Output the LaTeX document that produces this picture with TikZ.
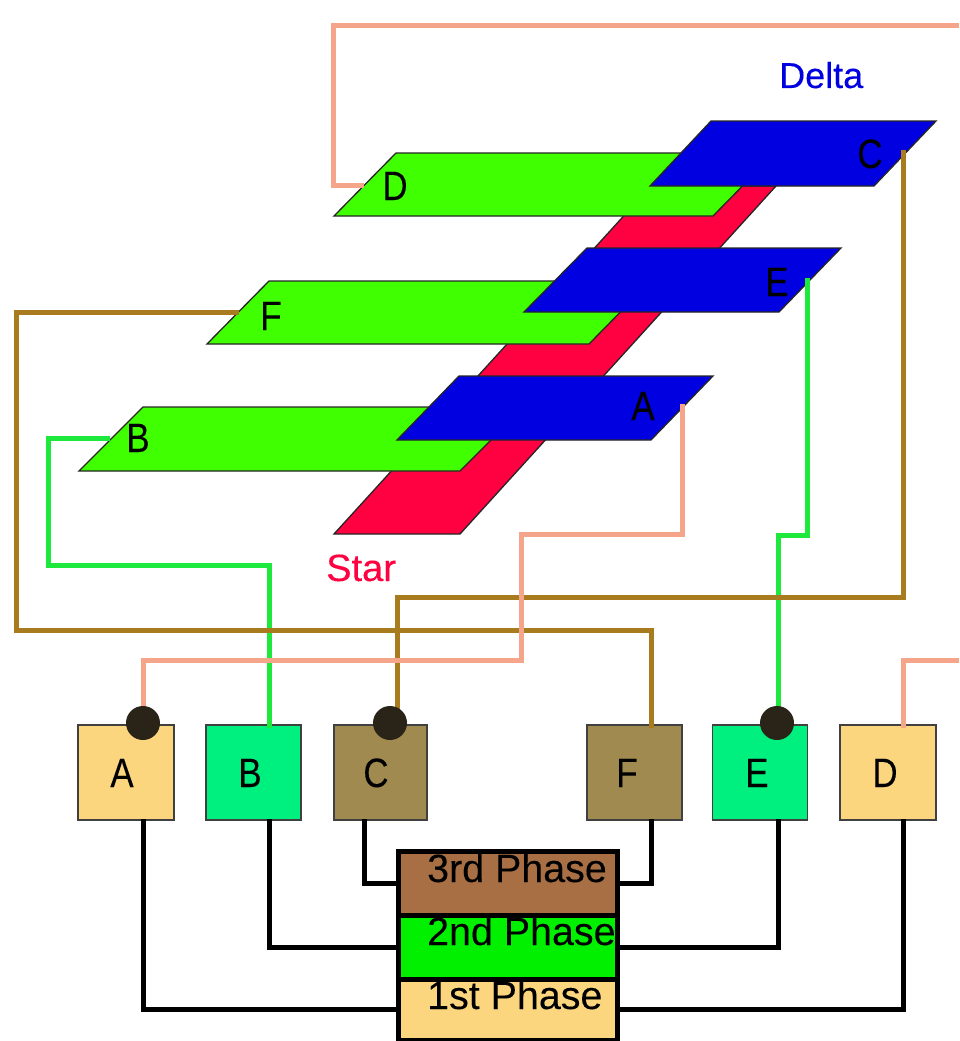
\documentclass[tikz,border=0pt]{standalone}
\usepackage{fontspec}
\setmainfont{Liberation Sans}
\newfontfamily\heavyfont[FakeBold=0.25]{Liberation Sans}
\newfontfamily\midfont[FakeBold=0.12]{Liberation Sans}
\definecolor{planeG}{HTML}{40FF00}
\definecolor{planeB}{HTML}{0000E0}
\definecolor{planeR}{HTML}{FF0040}
\definecolor{wireP}{HTML}{F4A58A}
\definecolor{wireB}{HTML}{A87B1E}
\definecolor{wireG}{HTML}{1FE83C}
\definecolor{boxY}{HTML}{FBD67E}
\definecolor{boxG}{HTML}{00F080}
\definecolor{boxB}{HTML}{A08A50}
\definecolor{phaseB}{HTML}{A86F45}
\definecolor{phaseG}{HTML}{00F000}
\definecolor{dotK}{HTML}{2A2318}
\tikzset{
  plane/.style={draw=black!85,line width=1.3pt,line join=miter},
  wire/.style={line width=5pt,line join=miter},
  letter/.style={font=\midfont\fontsize{41}{41}\selectfont,xscale=.85,transform shape,inner sep=0pt,anchor=base,text=black},
  termbox/.style={draw=black!75,line width=1.6pt,inner sep=0pt,outer sep=0pt},
  phasebox/.style={draw=black,line width=5pt,inner sep=0pt,outer sep=0pt,minimum width=219pt},
  phasetext/.style={font=\midfont\fontsize{39.4}{40}\selectfont,inner sep=0pt,anchor=base west,text=black},
  tie/.style={fill=dotK,circle,inner sep=0pt,minimum size=34pt}
}
\begin{document}
\begin{tikzpicture}[x=1pt,y=-1pt]
\useasboundingbox (0,0) rectangle (959,1041);
\fill[white] (0,0) rectangle (959,1041);
% planes
\draw[plane,fill=planeR] (334,534) -- (460,534) -- (776,186) -- (651,186) -- cycle;
\draw[plane,fill=planeG] (334,216) -- (396,153) -- (775,153) -- (713,216) -- cycle;
\draw[plane,fill=planeG] (207,344) -- (269,281) -- (651,281) -- (589,344) -- cycle;
\draw[plane,fill=planeG] (79,471) -- (143,407) -- (524,407) -- (460,471) -- cycle;
\draw[plane,fill=planeB] (650,186) -- (711,121) -- (936,121) -- (874,186) -- cycle;
\draw[plane,fill=planeB] (524,312) -- (587,248) -- (841,248) -- (779,312) -- cycle;
\draw[plane,fill=planeB] (397,440) -- (459,376) -- (713,376) -- (651,440) -- cycle;
% plane labels
\node[letter] (lD) at (395,200) {D};
\node[letter] (lC) at (870,168) {C};
\node[letter] (lE) at (777,296) {E};
\node[letter] (lF) at (271,330) {F};
\node[letter] (lB) at (138,452) {B};
\node[letter] (lA) at (643,420) {A};
\node[font=\heavyfont\fontsize{36}{36}\selectfont,text=planeB,inner sep=0pt,anchor=base west] (delta) at (779,88) {Delta};
\node[font=\heavyfont\fontsize{38}{38}\selectfont,text=planeR,inner sep=0pt,anchor=base west] (star) at (326,581) {Star};
% terminal boxes
\node[termbox,fill=boxY,minimum width=96pt,minimum height=95pt] (bA) at (126,772.5) {};
\node[termbox,fill=boxG,minimum width=95pt,minimum height=95pt] (bB) at (253.5,772.5) {};
\node[termbox,fill=boxB,minimum width=93pt,minimum height=95pt] (bC) at (380.5,772.5) {};
\node[termbox,fill=boxB,minimum width=95pt,minimum height=95pt] (bF) at (634.5,772.5) {};
\node[termbox,fill=boxG,minimum width=95pt,minimum height=95pt] (bE) at (760,772.5) {};
\node[termbox,fill=boxY,minimum width=96pt,minimum height=95pt] (bD) at (888,772.5) {};
\node[letter] (tA) at (122,787) {A};
\node[letter] (tB) at (250,787) {B};
\node[letter] (tC) at (376,787) {C};
\node[letter] (tF) at (627,787) {F};
\node[letter] (tE) at (757,787) {E};
\node[letter] (tD) at (885,787) {D};
% wire end points
\coordinate (pA) at (682,404);
\coordinate (pB) at (110,438);
\coordinate (pC) at (903,150);
\coordinate (pD) at (364,185);
\coordinate (pE) at (807,278);
\coordinate (pF) at (239,312);
\coordinate (inA) at (143,725);
\coordinate (inB) at (269,728);
\coordinate (inC) at (397,725);
\coordinate (inD) at (903,728);
\coordinate (inE) at (778,725);
\coordinate (inF) at (651,728);
\coordinate (offT) at (959,26);
\coordinate (offB) at (959,660);
% upper wiring
\draw[wire,wireG] (pB) -| (48,565) -| (inB);
\draw[wire,wireG] (pE) |- (778,535) -- (inE);
\draw[wire,wireB] (pF) -| (16,630) -| (inF);
\draw[wire,wireB] (pC) |- (397,597) -- (inC);
\draw[wire,wireP] (pA) |- (521,534) |- (143,660) -- (inA);
\draw[wire,wireP] (pD) -| (333,26) -- (offT);
\draw[wire,wireP] (offB) -| (inD);
% phases
\node[phasebox,fill=phaseB,minimum height=63.5pt] (p3) at (507.5,883.25) {};
\node[phasebox,fill=phaseG,minimum height=64pt] (p2) at (507.5,947) {};
\node[phasebox,fill=boxY,minimum height=61pt] (p1) at (507.5,1009.5) {};
\node[phasetext] (t3) at (427,882) {3rd Phase};
\node[phasetext] (t2) at (427,945) {2nd Phase};
\node[phasetext] (t1) at (427,1009) {1st Phase};
% lower wiring
\coordinate (oA) at (143,819);
\coordinate (oB) at (269,819);
\coordinate (oC) at (364,819);
\coordinate (oF) at (651,819);
\coordinate (oE) at (778,819);
\coordinate (oD) at (903,819);
\draw[wire,black] (oA) |- (p1.west);
\draw[wire,black] (oD) |- (p1.east);
\draw[wire,black] (oB) |- (p2.west);
\draw[wire,black] (oE) |- (p2.east);
\draw[wire,black] (oC) |- (p3.west);
\draw[wire,black] (oF) |- (p3.east);
% tie points
\node[tie] (dA) at (143,723) {};
\node[tie] (dC) at (390,723) {};
\node[tie] (dE) at (777,723) {};
\end{tikzpicture}
\end{document}
